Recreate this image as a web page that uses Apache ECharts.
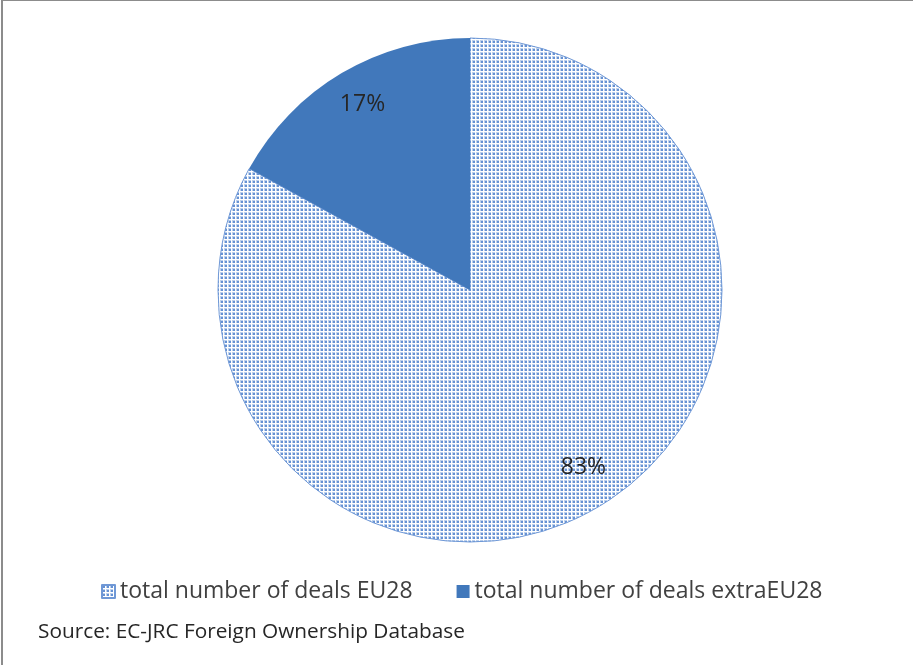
<!DOCTYPE html>
<html><head><meta charset="utf-8">
<script src="https://cdn.jsdelivr.net/npm/echarts@6/dist/echarts.min.js"></script>
<style>
html,body{margin:0;padding:0;background:#fff;overflow:hidden;}
#c{width:913px;height:665px;position:relative;}
#frame{position:absolute;left:1px;top:0;width:930px;height:700px;border-left:2px solid #8c8c8c;border-top:1px solid #8c8c8c;pointer-events:none;}
</style></head>
<body><div id="c"></div><div id="frame"></div>
<script>
var categories = ['total number of deals EU28', 'total number of deals extraEU28'];
var shares = [83, 17];
var labels = ['83%', '17%'];
var sourceText = 'Source: EC-JRC Foreign Ownership Database';

function makePattern(){
  var cv = document.createElement('canvas');
  cv.width = 4; cv.height = 4;
  var ctx = cv.getContext('2d');
  ctx.fillStyle = '#ffffff'; ctx.fillRect(0,0,4,4);
  ctx.fillStyle = '#bcd0ec'; ctx.fillRect(0,0,3,3);
  ctx.fillStyle = '#6591d3'; ctx.fillRect(1,1,2,2);
  return cv;
}
var pat = {image: makePattern(), repeat: 'repeat'};
var dark = '#4178bb';

var chart = echarts.init(document.getElementById('c'), null, {renderer:'canvas'});
var font = '"Open Sans", sans-serif';
chart.setOption({
  animation:false,
  legend:{
    data: categories,
    top: 575, left: 96,
    itemWidth: 13, itemHeight: 13, itemGap: 44,
    icon: 'rect',
    textStyle:{fontFamily:font, fontSize:23, color:'#404040'}
  },
  graphic:[{type:'text', left:38, top:622, style:{text:sourceText, font:'20.8px "Open Sans", sans-serif', fill:'#262626'}}],
  series:[{
    type:'pie', center:[470,290], radius:[0,252], startAngle:90, clockwise:true,
    label:{show:false}, labelLine:{show:false}, silent:true,
    data: categories.map(function(c,i){return {name:c, value:shares[i], itemStyle:{color: i===0?pat:dark, borderColor: i===0?'#6f98d6':dark, borderWidth: i===0?1:0}};})
  },{
    type:'pie', center:[470,290], radius:[180,252], startAngle:90, clockwise:true,
    silent:true, legendHoverLink:false,
    itemStyle:{color:'rgba(0,0,0,0)'},
    label:{show:true, position:'inside', fontFamily:font, fontSize:23, color:'#262626', formatter:function(p){return labels[p.dataIndex];}},
    labelLine:{show:false},
    data: shares.map(function(v,i){return {name:'lbl'+i, value:v, label:{offset: i===0?[2,-11]:[4,3]}};})
  }]
});
</script></body></html>
